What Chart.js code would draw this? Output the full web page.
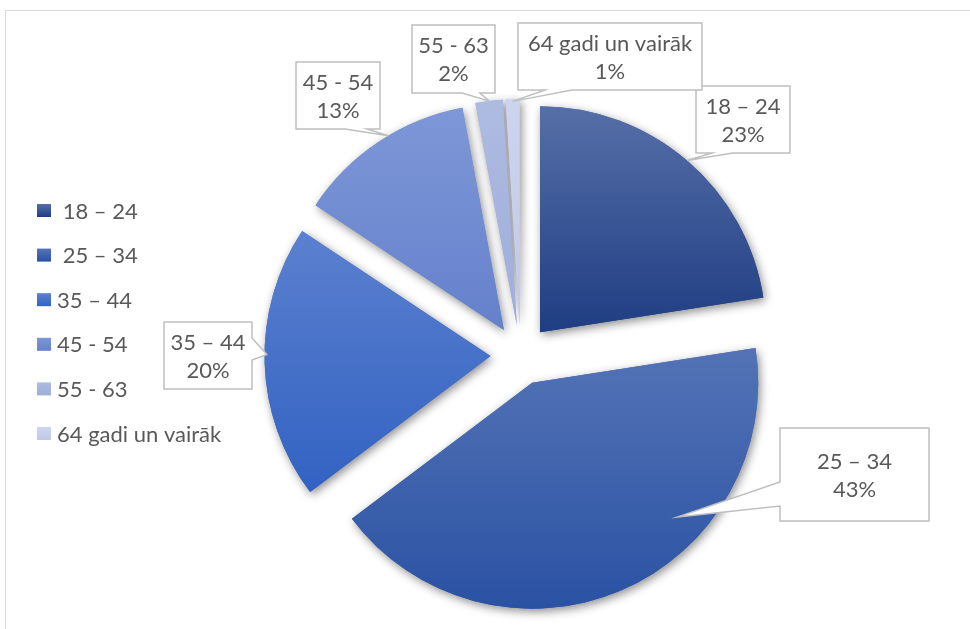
<!DOCTYPE html>
<html>
<head>
<meta charset="utf-8">
<script src="https://cdn.jsdelivr.net/npm/chart.js@4.4.0/dist/chart.umd.min.js"></script>
<style>
  html, body { margin: 0; padding: 0; background: #fff; }
  #wrap { position: relative; width: 970px; height: 629px; overflow: hidden; }
  #frame { position: absolute; left: 5px; top: 10px; width: 1000px; height: 700px; border: 1px solid #d9d9d9; }
  canvas { position: absolute; left: 0; top: 0; }
</style>
</head>
<body>
<div id="wrap">
  <div id="frame"></div>
  <canvas id="chart" width="970" height="629"></canvas>
</div>
<script>
// data
const categories = [' 18 – 24', ' 25 – 34', '35 – 44', '45 - 54', '55 - 63', '64 gadi un vairāk'];
const shares = [23, 43, 20, 13, 2, 1];

// colours (top of slice -> bottom of slice)
const topColors = ['#566fa8', '#5473b6', '#5b80cf', '#7e97d7', '#aebbe1', '#cdd4ee'];
const bottomColors = ['#1f3d82', '#2a52a3', '#3262c2', '#6581cc', '#9eaedb', '#bfc9e8'];

const FONT = '22px Lato, "Noto Sans", sans-serif';
const TEXT = '#595959';
const EXPLODE = 30;

// callout boxes: [x, y, w, h], wedge side and its base, tip as (fraction of slice angle, fraction of radius)
const calloutBox = [[696, 86, 94, 67], [780, 428, 149, 93], [164, 322, 88, 67], [296, 62, 84, 67], [412, 25, 83, 68], [518, 23, 184, 67]];
const calloutWedge = [['bottom', 712, 733], ['left', 482, 506], ['right', 338, 360], ['bottom', 345, 367], ['bottom', 462, 480], ['bottom', 545, 572]];
const calloutTip = [[0.5, 1.0], [0.34, 0.876], [0.53, 0.99], [0.56, 1.0], [0.5, 1.0], [0.5, 0.99]];

function sliceGradient(ctx, arc, i) {
  const r = arc.outerRadius, s = arc.startAngle, e = arc.endAngle;
  const ys = [arc.y, arc.y + r * Math.sin(s), arc.y + r * Math.sin(e)];
  for (let k = Math.ceil((s - Math.PI / 2) / Math.PI); k <= Math.floor((e - Math.PI / 2) / Math.PI); k++) {
    ys.push(arc.y + r * Math.sin(Math.PI / 2 + k * Math.PI));
  }
  const g = ctx.createLinearGradient(0, Math.min(...ys), 0, Math.max(...ys));
  g.addColorStop(0, topColors[i]);
  g.addColorStop(1, bottomColors[i]);
  return g;
}

function shift(arc) {
  const mid = (arc.startAngle + arc.endAngle) / 2;
  return [Math.cos(mid) * EXPLODE, Math.sin(mid) * EXPLODE];
}

const explodePlugin = {
  id: 'explode',
  beforeDatasetsDraw(chart) {
    const ctx = chart.ctx;
    const arcs = chart.getDatasetMeta(0).data;
    for (let pass = 0; pass < 2; pass++) {
      arcs.forEach((arc, i) => {
        const [dx, dy] = shift(arc);
        ctx.save();
        ctx.translate(dx, dy);
        arc.options.backgroundColor = sliceGradient(ctx, arc, i);
        if (pass === 0) {
          ctx.shadowColor = 'rgba(0,0,0,0.45)';
          ctx.shadowBlur = 10;
          ctx.shadowOffsetX = 2;
          ctx.shadowOffsetY = 3;
        }
        arc.draw(ctx);
        ctx.restore();
      });
    }
    return false;
  }
};

const legendPlugin = {
  id: 'sideLegend',
  afterDraw(chart) {
    const ctx = chart.ctx;
    ctx.save();
    ctx.font = FONT;
    ctx.textBaseline = 'middle';
    categories.forEach((c, i) => {
      const y = 210.5 + i * 44.6;
      const g = ctx.createLinearGradient(0, y - 6.5, 0, y + 6.5);
      g.addColorStop(0, topColors[i]);
      g.addColorStop(1, bottomColors[i]);
      ctx.fillStyle = g;
      ctx.fillRect(37, y - 6.5, 14, 13);
      ctx.fillStyle = TEXT;
      ctx.fillText(c, 57, y + 1);
    });
    ctx.restore();
  }
};

const calloutPlugin = {
  id: 'callouts',
  afterDraw(chart) {
    const ctx = chart.ctx;
    const arcs = chart.getDatasetMeta(0).data;
    ctx.save();
    arcs.forEach((arc, i) => {
      const [x, y, w, h] = calloutBox[i];
      const [side, a, b] = calloutWedge[i];
      const [t, k] = calloutTip[i];
      const [dx, dy] = shift(arc);
      const ang = arc.startAngle + t * (arc.endAngle - arc.startAngle);
      const tx = arc.x + dx + Math.cos(ang) * arc.outerRadius * k;
      const ty = arc.y + dy + Math.sin(ang) * arc.outerRadius * k;
      ctx.beginPath();
      ctx.moveTo(x, y);
      if (side === 'right') {
        ctx.lineTo(x + w, y); ctx.lineTo(x + w, a); ctx.lineTo(tx, ty); ctx.lineTo(x + w, b);
        ctx.lineTo(x + w, y + h); ctx.lineTo(x, y + h);
      } else if (side === 'left') {
        ctx.lineTo(x + w, y); ctx.lineTo(x + w, y + h); ctx.lineTo(x, y + h);
        ctx.lineTo(x, b); ctx.lineTo(tx, ty); ctx.lineTo(x, a);
      } else {
        ctx.lineTo(x + w, y); ctx.lineTo(x + w, y + h); ctx.lineTo(b, y + h);
        ctx.lineTo(tx, ty); ctx.lineTo(a, y + h); ctx.lineTo(x, y + h);
      }
      ctx.closePath();
      ctx.fillStyle = '#fff';
      ctx.fill();
      ctx.lineWidth = 1.5;
      ctx.strokeStyle = '#bfbfbf';
      ctx.stroke();

      ctx.font = FONT;
      ctx.fillStyle = TEXT;
      ctx.textAlign = 'center';
      ctx.textBaseline = 'middle';
      const cx = x + w / 2, cy = y + h / 2;
      ctx.fillText(categories[i].trim(), cx, cy - 13);
      ctx.fillText(shares[i] + '%', cx, cy + 15);
    });
    ctx.restore();
  }
};

new Chart(document.getElementById('chart'), {
  type: 'pie',
  data: {
    labels: categories,
    datasets: [{
      data: shares,
      backgroundColor: (c) => bottomColors[c.dataIndex],
      borderWidth: 0,
      offset: 0
    }]
  },
  options: {
    responsive: false,
    animation: false,
    events: [],
    radius: 226,
    layout: { padding: { left: 290, right: 219, top: 130, bottom: 49 } },
    plugins: { legend: { display: false }, tooltip: { enabled: false } }
  },
  plugins: [explodePlugin, calloutPlugin, legendPlugin]
});
</script>
</body>
</html>
